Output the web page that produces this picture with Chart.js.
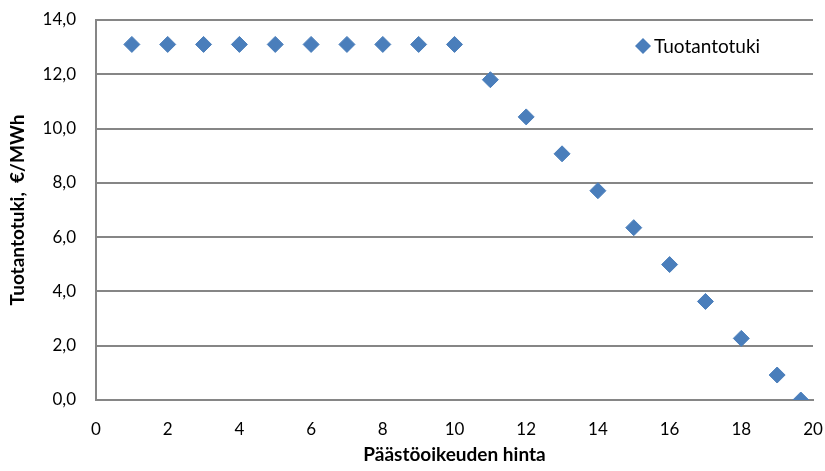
<!DOCTYPE html>
<html>
<head>
<meta charset="utf-8">
<script src="https://cdn.jsdelivr.net/npm/chart.js@4/dist/chart.umd.min.js"></script>
<style>
  html, body { margin: 0; padding: 0; background: #fff; }
  #wrap { width: 825px; height: 471px; }
</style>
</head>
<body>
<div id="wrap"><canvas id="chart" width="825" height="471"></canvas></div>
<script>
// Päästöoikeuden hinta (x) vs. tuotantotuki (y)
const priceValues = [1, 2, 3, 4, 5, 6, 7, 8, 9, 10, 11, 12, 13, 14, 15, 16, 17, 18, 19, 19.66];
const subsidyValues = [13.1, 13.1, 13.1, 13.1, 13.1, 13.1, 13.1, 13.1, 13.1, 13.1,
    11.8, 10.43, 9.07, 7.71, 6.35, 4.99, 3.63, 2.27, 0.92, 0.0];
const seriesLabel = 'Tuotantotuki';
const xTitle = 'Päästöoikeuden hinta';
const yTitle = 'Tuotantotuki,  €/MWh';

const blue = '#4A7EBB';
const gridGray = '#868686';
const fontFamily = 'Lato, "Open Sans", "Liberation Sans", sans-serif';

// legend drawn inside the plot area, top right
const insideLegend = {
    id: 'insideLegend',
    afterDraw(chart) {
        const ctx = chart.ctx;
        const x = 643;
        const y = 46;
        ctx.save();
        ctx.fillStyle = blue;
        ctx.beginPath();
        ctx.moveTo(x, y - 8);
        ctx.lineTo(x + 8, y);
        ctx.lineTo(x, y + 8);
        ctx.lineTo(x - 8, y);
        ctx.closePath();
        ctx.fill();
        ctx.fillStyle = '#000';
        ctx.font = '19px ' + fontFamily;
        ctx.textBaseline = 'middle';
        ctx.fillText(chart.data.datasets[0].label, x + 11, y + 1);
        ctx.restore();
    }
};

// keep the plot box fixed: no extra room for edge labels
function noEdgePadding(scale) {
    scale.paddingTop = 0;
    scale.paddingBottom = 0;
    scale.paddingLeft = 0;
    scale.paddingRight = 0;
}

const points = priceValues.map((p, i) => ({ x: p, y: subsidyValues[i] }));

new Chart(document.getElementById('chart').getContext('2d'), {
    type: 'scatter',
    data: {
        datasets: [{
            label: seriesLabel,
            data: points,
            pointStyle: 'rectRot',
            pointRadius: 8,
            pointHoverRadius: 8,
            backgroundColor: blue,
            borderColor: blue,
            borderWidth: 1
        }]
    },
    options: {
        responsive: false,
        animation: false,
        layout: { padding: { left: 6, right: 12, top: 20, bottom: 0 } },
        plugins: {
            legend: { display: false },
            tooltip: { enabled: false }
        },
        scales: {
            x: {
                type: 'linear',
                min: 0,
                max: 20,
                afterFit: (scale) => { scale.height = 71; noEdgePadding(scale); },
                ticks: {
                    stepSize: 2,
                    color: '#000',
                    padding: 19,
                    maxRotation: 0,
                    font: { family: fontFamily, size: 17 }
                },
                grid: { display: false, drawTicks: false },
                border: { display: true, color: gridGray, width: 2 },
                title: {
                    display: true,
                    text: xTitle,
                    color: '#000',
                    padding: { top: 0, bottom: 5 },
                    font: { family: fontFamily, size: 19, weight: 'bold' }
                }
            },
            y: {
                min: 0,
                max: 14,
                afterFit: (scale) => { scale.width = 90; noEdgePadding(scale); },
                ticks: {
                    stepSize: 2,
                    color: '#000',
                    padding: 20,
                    font: { family: fontFamily, size: 17 },
                    callback: (v) => v.toFixed(1).replace('.', ',')
                },
                grid: { color: gridGray, lineWidth: 2, drawTicks: false },
                border: { display: true, color: gridGray, width: 2 },
                title: {
                    display: true,
                    text: yTitle,
                    color: '#000',
                    padding: { top: 0, bottom: 0 },
                    font: { family: fontFamily, size: 19, weight: 'bold' }
                }
            }
        }
    },
    plugins: [insideLegend]
});
</script>
</body>
</html>
